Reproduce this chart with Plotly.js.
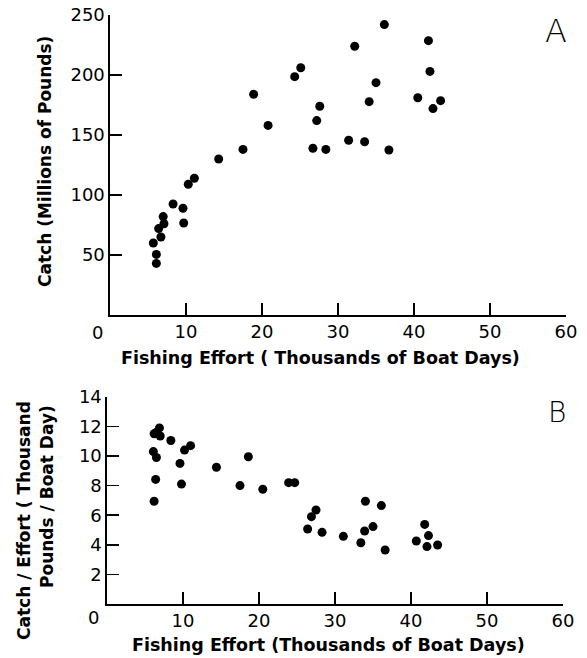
<!DOCTYPE html>
<html>
<head>
<meta charset="utf-8">
<script src="https://cdn.plot.ly/plotly-3.0.1.min.js"></script>
<style>html,body{margin:0;padding:0;background:#fff;}#chart{width:587px;height:658px;}</style>
</head>
<body>
<div id="chart"></div>
<script>
// Panel A: catch vs fishing effort
const effortA = [5.7, 6.1, 6.1, 6.7, 6.4, 7.1, 7.0, 8.3, 9.6, 9.7, 10.3, 11.1, 14.3, 17.5, 18.9, 20.8, 24.3, 25.1, 26.7, 27.2, 27.6, 28.4, 31.4, 32.2, 33.5, 34.1, 35.0, 36.1, 36.7, 40.5, 41.9, 42.1, 42.5, 43.5];
const catchA  = [60, 50.5, 43, 65, 72, 76, 82, 92.5, 89, 76.7, 109, 114, 130, 138, 184, 158, 198.6, 206, 139, 162, 174, 138, 145.6, 224, 144.4, 177.8, 193.6, 242, 137.5, 181, 228.6, 203, 172, 178.6];
// Panel B: catch per effort vs fishing effort
const effortB = [6.2, 6.4, 6.5, 6.1, 6.2, 6.9, 7.0, 6.5, 8.4, 9.6, 9.8, 10.2, 11.0, 14.4, 17.5, 18.6, 20.5, 23.9, 24.7, 27.5, 26.9, 26.4, 28.3, 31.1, 34.0, 36.1, 35.0, 33.9, 33.4, 36.6, 41.8, 40.7, 42.3, 42.1, 43.5];
const cpueB   = [6.94, 8.42, 9.9, 10.3, 11.5, 11.9, 11.35, 11.6, 11.05, 9.5, 8.1, 10.4, 10.7, 9.24, 8.0, 9.95, 7.75, 8.2, 8.2, 6.35, 5.9, 5.07, 4.84, 4.57, 6.94, 6.65, 5.23, 4.93, 4.14, 3.65, 5.38, 4.26, 4.62, 3.88, 3.99];
const xTicks = [10, 20, 30, 40, 50, 60];
const yTicksA = [50, 100, 150, 200, 250];
const yTicksB = [2, 4, 6, 8, 10, 12, 14];

const FONT = 'DejaVu Sans, sans-serif';
const W = 587, H = 658;
const px = v => v / W;
const py = v => 1 - v / H;

const marker = {color: '#000', size: 9, line: {width: 0}};
const traces = [
  {x: effortA, y: catchA, type: 'scatter', mode: 'markers', marker: marker, xaxis: 'x', yaxis: 'y', hoverinfo: 'none'},
  {x: effortB, y: cpueB, type: 'scatter', mode: 'markers', marker: marker, xaxis: 'x2', yaxis: 'y2', hoverinfo: 'none'}
];

const axisCommon = {
  showline: true, linecolor: '#000', linewidth: 1.6,
  ticks: 'inside', ticklen: 12, tickwidth: 1.6, tickcolor: '#000',
  showgrid: false, zeroline: false, automargin: false,
  tickfont: {family: FONT, size: 18, color: '#000'}
};

function ann(text, x, y, size, extra) {
  return Object.assign({text: text, xref: 'paper', yref: 'paper', x: px(x), y: py(y),
    xanchor: 'center', yanchor: 'middle', showarrow: false,
    font: {family: FONT, size: size, color: '#000'}}, extra || {});
}

const layout = {
  width: W, height: H,
  margin: {l: 0, r: 0, t: 0, b: 0},
  paper_bgcolor: '#fff', plot_bgcolor: '#fff',
  showlegend: false,
  xaxis: Object.assign({}, axisCommon, {domain: [px(110), px(566)], range: [0, 60], tickvals: xTicks, anchor: 'y'}),
  yaxis: Object.assign({}, axisCommon, {domain: [py(315), py(15)], range: [0, 250], tickvals: yTicksA, anchor: 'x'}),
  xaxis2: Object.assign({}, axisCommon, {domain: [px(107), px(563)], range: [0, 60], tickvals: xTicks, anchor: 'y2'}),
  yaxis2: Object.assign({}, axisCommon, {domain: [py(604), py(604 - 14 * 14.8)], range: [0, 14], tickvals: yTicksB, anchor: 'x2'}),
  annotations: [
    ann('0', 97, 333, 18),
    ann('0', 93, 617, 18),
    ann('<b>Fishing Effort ( Thousands of Boat Days)</b>', 320, 358, 17.5),
    ann('<b>Fishing Effort (Thousands of Boat Days)</b>', 328, 645, 17.5),
    ann('<b>Catch (Millions of Pounds)</b>', 45, 162, 17, {textangle: -90}),
    ann('<b>Catch / Effort ( Thousand</b>', 24, 521, 17, {textangle: -90}),
    ann('<b>Pounds / Boat Day)</b>', 47, 497, 17, {textangle: -90}),
    {text: 'A', xref: 'paper', yref: 'paper', x: px(556), y: py(31), xanchor: 'center', yanchor: 'middle', showarrow: false, font: {family: FONT, size: 32, color: '#000', weight: 200}},
    {text: 'B', xref: 'paper', yref: 'paper', x: px(557), y: py(412), xanchor: 'center', yanchor: 'middle', showarrow: false, font: {family: FONT, size: 28, color: '#000', weight: 200}}
  ]
};

Plotly.newPlot('chart', traces, layout, {staticPlot: true, displayModeBar: false});
</script>
</body>
</html>
